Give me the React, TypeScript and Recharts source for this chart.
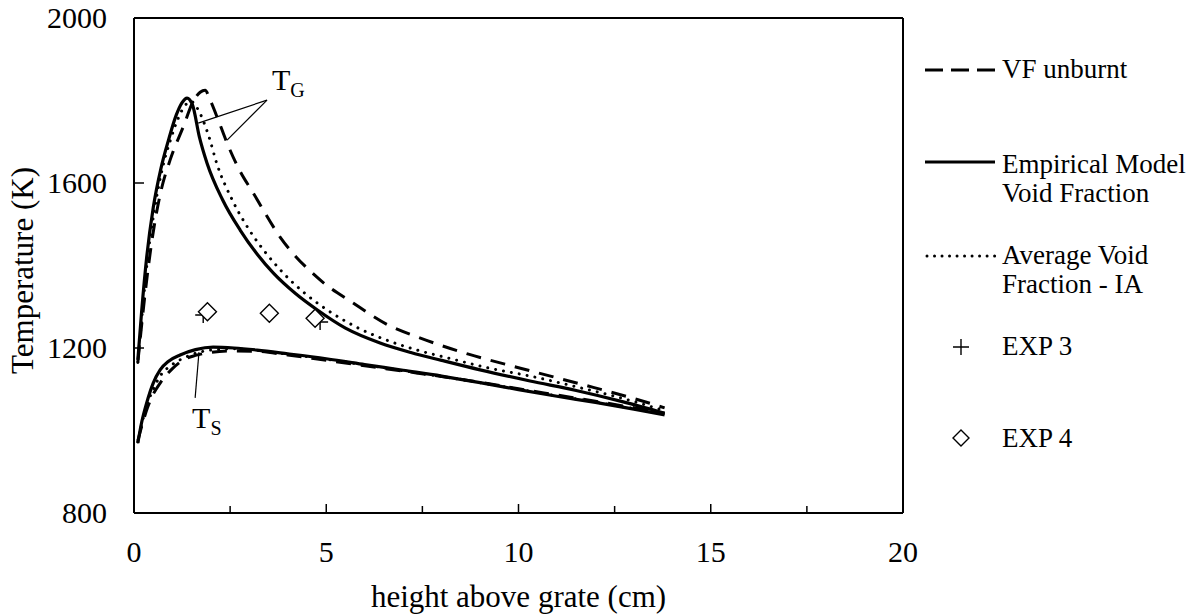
import React from 'react';
import { ComposedChart, Line, Scatter, XAxis, YAxis, ReferenceLine, ReferenceDot } from 'recharts';

const FONT = "'Times New Roman', 'Liberation Serif', serif";

// gas temperature T_G
const empGasX = [0.1, 0.2, 0.33, 0.5, 0.7, 0.9, 1.1, 1.25, 1.38, 1.52, 1.7, 1.9, 2.3, 2.76, 3.2, 3.62, 4.2, 4.77, 5.5, 6.4, 7.2, 8.0, 9.0, 10.3, 11.5, 12.7, 13.8];
const empGasT = [1171, 1290, 1420, 1540, 1635, 1705, 1765, 1795, 1806, 1790, 1712, 1648, 1560, 1486, 1428, 1382, 1332, 1292, 1248, 1212, 1189, 1170, 1147, 1120, 1097, 1070, 1042];

const avgGasX = [0.1, 0.2, 0.35, 0.55, 0.75, 0.95, 1.15, 1.32, 1.48, 1.62, 1.95, 2.15, 2.55, 3.0, 3.45, 3.9, 4.45, 5.03, 5.8, 6.6, 7.4, 8.2, 9.2, 10.3, 11.5, 12.7, 13.8];
const avgGasT = [1165, 1270, 1415, 1545, 1640, 1705, 1757, 1787, 1798, 1785, 1712, 1648, 1560, 1486, 1428, 1380, 1332, 1292, 1250, 1218, 1194, 1175, 1152, 1132, 1106, 1078, 1048];

const vfGasX = [0.1, 0.25, 0.45, 0.7, 0.94, 1.28, 1.55, 1.72, 1.85, 1.98, 2.19, 2.42, 2.75, 3.1, 3.8, 4.84, 5.7, 6.6, 7.45, 8.7, 10.05, 11.6, 12.8, 13.8];
const vfGasT = [1165, 1300, 1450, 1580, 1656, 1736, 1800, 1820, 1825, 1801, 1753, 1697, 1630, 1576, 1469, 1365, 1309, 1256, 1224, 1185, 1151, 1113, 1083, 1055];

// solid temperature T_S
const empSolX = [0.1, 0.2, 0.33, 0.5, 0.68, 0.9, 1.2, 1.6, 2.06, 2.6, 3.2, 4.0, 5.0, 6.0, 7.0, 8.0, 9.0, 10.0, 11.0, 12.0, 13.0, 13.8];
const empSolT = [970, 1020, 1067, 1115, 1147, 1168, 1183, 1196, 1202, 1200, 1195, 1186, 1174, 1160, 1146, 1132, 1116, 1099, 1083, 1068, 1052, 1038];

const avgSolX = [0.1, 0.2, 0.35, 0.5, 0.68, 1.0, 1.4, 2.0, 2.6, 3.2, 4.0, 5.0, 6.0, 7.0, 8.0, 9.0, 10.0, 11.0, 12.0, 13.0, 13.8];
const avgSolT = [972, 1015, 1065, 1100, 1132, 1160, 1180, 1195, 1198, 1194, 1185, 1173, 1159, 1145, 1131, 1116, 1100, 1084, 1069, 1053, 1040];

const vfSolX = [0.1, 0.2, 0.35, 0.5, 0.68, 1.0, 1.28, 1.6, 1.9, 2.5, 3.2, 4.0, 5.0, 6.0, 7.0, 8.0, 9.0, 10.0, 11.0, 12.0, 13.0, 13.8];
const vfSolT = [975, 1010, 1055, 1088, 1115, 1150, 1171, 1182, 1188, 1193, 1192, 1183, 1170, 1157, 1144, 1131, 1117, 1101, 1086, 1071, 1055, 1042];

// experiments
const exp3X = [1.8, 3.52, 4.84];
const exp3T = [1280, 1285, 1263];
const exp4X = [1.91, 3.52, 4.71];
const exp4T = [1288, 1284, 1272];

const xTicks = [0, 2.5, 5, 7.5, 10, 12.5, 15, 17.5, 20];
const yTicks = [800, 1200, 1600, 2000];

const pts = (xs: number[], ts: number[]) => xs.map((x, i) => ({ x, t: ts[i] }));

const DASH = '15 10';
const DOT = '0.01 8';
const TM = 10; // tick margin used to recover axis position in custom ticks

const XTick = (p: any) => {
  const { x, y, payload } = p;
  const axisY = y - TM;
  const major = payload.value % 5 === 0;
  return (
    <g>
      <line x1={x} x2={x} y1={axisY} y2={axisY - (major ? 9 : 7)} stroke="#000" strokeWidth={1.5} />
      {major && (
        <text x={x} y={axisY + 49} textAnchor="middle" fontSize={30} fill="#000" style={{ fontFamily: FONT }}>
          {payload.value}
        </text>
      )}
    </g>
  );
};

const YTick = (p: any) => {
  const { x, y, payload } = p;
  const axisX = x + TM;
  return (
    <g>
      <line x1={axisX} x2={axisX + 10} y1={y} y2={y} stroke="#000" strokeWidth={1.5} />
      <text x={axisX - 27} y={y + 10} textAnchor="end" fontSize={30} fill="#000" style={{ fontFamily: FONT }}>
        {payload.value}
      </text>
    </g>
  );
};

const Diamond = (p: any) => {
  const { cx, cy } = p;
  const h = 9;
  return <path d={`M${cx},${cy - h}L${cx + h},${cy}L${cx},${cy + h}L${cx - h},${cy}Z`} fill="#fff" stroke="#000" strokeWidth={1.4} />;
};

const Plus = (p: any) => {
  const { cx, cy } = p;
  const h = 8;
  return <path d={`M${cx - h},${cy}H${cx + h}M${cx},${cy - h}V${cy + h}`} stroke="#000" strokeWidth={1.4} fill="none" />;
};

const subLabel = (main: string, sub: string) => (props: any) => {
  const vb = props.viewBox;
  return (
    <text x={vb.x} y={vb.y} fontSize={30} fill="#000" style={{ fontFamily: FONT }}>
      {main}
      <tspan fontSize={20} dy={7}>{sub}</tspan>
    </text>
  );
};

function LegendBox() {
  const ts = { fontFamily: FONT, fontSize: 27 };
  return (
    <svg width={1192} height={615} style={{ position: 'absolute', left: 0, top: 0, pointerEvents: 'none' }}>
      <line x1={925} x2={995} y1={70} y2={70} stroke="#000" strokeWidth={3} strokeDasharray="18 8" />
      <text x={1002} y={78} style={ts}>VF unburnt</text>

      <line x1={925} x2={995} y1={162} y2={162} stroke="#000" strokeWidth={3.2} />
      <text x={1002} y={173} style={ts}>Empirical Model</text>
      <text x={1002} y={202} style={ts}>Void Fraction</text>

      <line x1={927} x2={995} y1={256} y2={256} stroke="#000" strokeWidth={3} strokeDasharray="0.01 7.5" strokeLinecap="round" />
      <text x={1002} y={264} style={ts}>Average Void</text>
      <text x={1002} y={293} style={ts}>Fraction - IA</text>

      <Plus cx={961} cy={347} />
      <text x={1002} y={355} style={ts}>EXP 3</text>

      <path d="M961,430L969,438L961,446L953,438Z" fill="#fff" stroke="#000" strokeWidth={1.4} />
      <text x={1002} y={447} style={ts}>EXP 4</text>
    </svg>
  );
}

export default function App() {
  return (
    <div style={{ position: 'absolute', left: 0, top: 0, width: 1192, height: 615, background: '#fff' }}>
      <ComposedChart width={1192} height={615} margin={{ top: 18, right: 289, bottom: 2, left: 54 }}>
        <XAxis
          type="number"
          dataKey="x"
          domain={[0, 20]}
          ticks={xTicks}
          interval={0}
          tickSize={0}
          tickMargin={TM}
          tickLine={false}
          height={100}
          tick={XTick}
          axisLine={{ stroke: '#000', strokeWidth: 2 }}
          label={{ value: 'height above grate (cm)', position: 'insideBottom', offset: 6, fill: '#000', fontSize: 31, style: { fontFamily: FONT } }}
        />
        <YAxis
          type="number"
          dataKey="t"
          domain={[800, 2000]}
          ticks={yTicks}
          interval={0}
          width={80}
          tickSize={0}
          tickMargin={TM}
          tickLine={false}
          tick={YTick}
          axisLine={{ stroke: '#000', strokeWidth: 2 }}
          label={{
            content: (p: any) => {
              const vb = p.viewBox;
              const cx = vb.x + vb.width - 101;
              const cy = vb.y + vb.height / 2 + 5;
              return (
                <text x={cx} y={cy} transform={`rotate(-90 ${cx} ${cy})`} textAnchor="middle" fontSize={31} fill="#000" style={{ fontFamily: FONT }}>
                  Temperature (K)
                </text>
              );
            },
          }}
        />
        <ReferenceLine y={2000} stroke="#000" strokeWidth={2} />
        <ReferenceLine x={20} stroke="#000" strokeWidth={2} />

        <Line data={pts(vfGasX, vfGasT)} dataKey="t" type="monotone" stroke="#000" strokeWidth={3} strokeDasharray={DASH} dot={false} activeDot={false} isAnimationActive={false} />
        <Line data={pts(vfSolX, vfSolT)} dataKey="t" type="monotone" stroke="#000" strokeWidth={3} strokeDasharray={DASH} dot={false} activeDot={false} isAnimationActive={false} />
        <Line data={pts(avgGasX, avgGasT)} dataKey="t" type="monotone" stroke="#000" strokeWidth={3} strokeDasharray={DOT} strokeLinecap="round" dot={false} activeDot={false} isAnimationActive={false} />
        <Line data={pts(avgSolX, avgSolT)} dataKey="t" type="monotone" stroke="#000" strokeWidth={3} strokeDasharray={DOT} strokeLinecap="round" dot={false} activeDot={false} isAnimationActive={false} />
        <Line data={pts(empGasX, empGasT)} dataKey="t" type="monotone" stroke="#000" strokeWidth={3.2} dot={false} activeDot={false} isAnimationActive={false} />
        <Line data={pts(empSolX, empSolT)} dataKey="t" type="monotone" stroke="#000" strokeWidth={3.2} dot={false} activeDot={false} isAnimationActive={false} />

        <Scatter data={pts(exp3X, exp3T)} dataKey="t" shape={Plus} isAnimationActive={false} />
        <Scatter data={pts(exp4X, exp4T)} dataKey="t" shape={Diamond} isAnimationActive={false} />

        <ReferenceLine segment={[{ x: 3.46, y: 1801 }, { x: 1.67, y: 1745 }]} stroke="#000" strokeWidth={1.2} />
        <ReferenceLine segment={[{ x: 3.46, y: 1801 }, { x: 2.42, y: 1704 }]} stroke="#000" strokeWidth={1.2} />
        <ReferenceLine segment={[{ x: 1.59, y: 1079 }, { x: 1.69, y: 1190 }]} stroke="#000" strokeWidth={1.2} />
        <ReferenceDot x={3.59} y={1825} r={0} fill="none" stroke="none" label={subLabel('T', 'G')} />
        <ReferenceDot x={1.51} y={1006} r={0} fill="none" stroke="none" label={subLabel('T', 'S')} />
      </ComposedChart>
      <LegendBox />
    </div>
  );
}
